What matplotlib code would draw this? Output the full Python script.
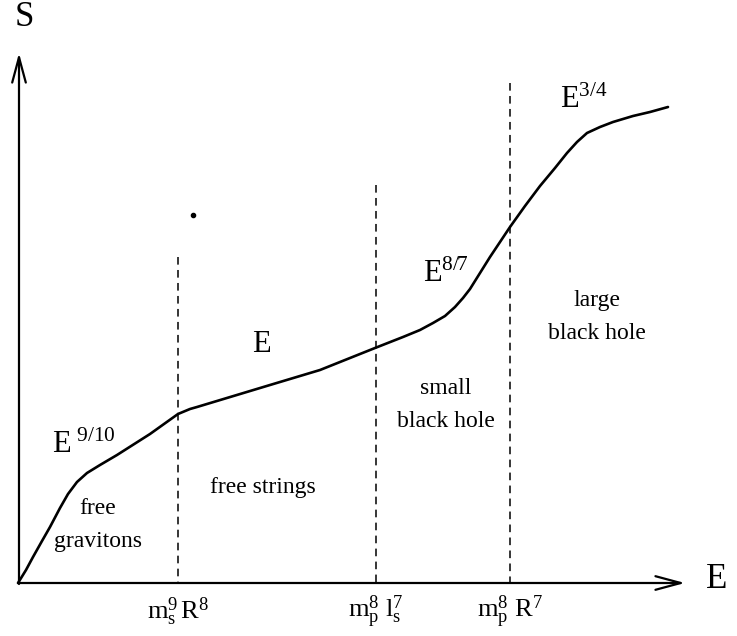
import matplotlib
matplotlib.use('Agg')
import matplotlib.pyplot as plt

plt.rcParams['font.family'] = ['Liberation Serif', 'DejaVu Serif']
plt.rcParams['mathtext.fontset'] = 'custom'
plt.rcParams['mathtext.rm'] = 'Liberation Serif'
plt.rcParams['mathtext.it'] = 'Liberation Serif'

# schematic S(E) curve, diagram units (x right, y down like the picture)
curve_E = [18, 26, 33, 42, 50, 60, 68, 77, 87, 100, 117, 150, 178, 190, 197,
           270, 320, 375, 403, 420, 433, 445, 455, 463, 470, 480, 490, 510,
           525, 540, 555, 567, 577, 587, 600, 613, 633, 650, 668]
curve_S = [583, 570, 557, 541, 527, 508, 494, 482, 473, 465, 455, 434, 414, 409, 407,
           385, 370, 348, 337, 330, 323, 316, 307, 298, 289, 273, 257, 227,
           206, 186, 168, 153, 142, 133, 127, 122, 116, 112, 107]

# phase boundaries: position and how high the dashed line goes
bound_E = [178, 376, 510]
bound_top = [257, 185, 83]
bound_labels = [r'$\mathrm{m_s^9\,R^8}$', r'$\mathrm{m_p^8\ l_s^7}$', r'$\mathrm{m_p^8\ R^7}$']

# power law labels
pow_labels = [r'$\mathrm{E}^{\ 9/10}$', r'$\mathrm{E}$', r'$\mathrm{E}^{8/7}$', r'$\mathrm{E}^{3/4}$']
pow_x = [52, 252, 423, 560]
pow_y = [453, 352, 282, 108]

# phase names
phase_labels = ['free\ngravitons', 'free strings', 'small\nblack hole', 'large\nblack hole']
phase_x = [98, 263, 446, 597]
phase_y = [525, 487, 405, 317]

origin = (19, 583)
x_end = 685
y_end = 53

fig = plt.figure(figsize=(7.37, 6.36), dpi=100)
ax = fig.add_axes([0, 0, 1, 1])
ax.set_xlim(0, 737)
ax.set_ylim(636, 0)
ax.axis('off')

# axes with open arrow heads
arr = dict(arrowstyle='->,head_length=1.3,head_width=0.35', lw=1.6, color='black',
           mutation_scale=14, shrinkA=0, shrinkB=0)
ax.annotate('', xy=(x_end, origin[1]), xytext=(origin[0] - 1, origin[1]), arrowprops=arr)
ax.annotate('', xy=(origin[0], y_end), xytext=(origin[0], origin[1] + 1), arrowprops=arr)
ax.text(origin[0] + 5, 17, 'S', fontsize=25, ha='center', va='center')
ax.text(717, 580, 'E', fontsize=25, ha='center', va='center')

ax.plot(curve_E, curve_S, color='black', lw=1.9, solid_capstyle='round',
        solid_joinstyle='round')

for xb, yt, lab in zip(bound_E, bound_top, bound_labels):
    ax.plot([xb, xb], [yt, origin[1]], color='black', lw=1.1, ls=(0, (5, 3.5)))
    ax.text(xb, 612, lab, fontsize=19, ha='center', va='center')

for lab, x, y in zip(pow_labels, pow_x, pow_y):
    ax.text(x, y, lab, fontsize=22, ha='left', va='baseline')

for lab, x, y in zip(phase_labels, phase_x, phase_y):
    ax.text(x, y, lab, fontsize=17, ha='center', va='center', linespacing=1.75)

# stray speck in the scan
ax.plot([193], [215], 'o', color='black', ms=3)

fig.savefig('out.png', dpi=100)
